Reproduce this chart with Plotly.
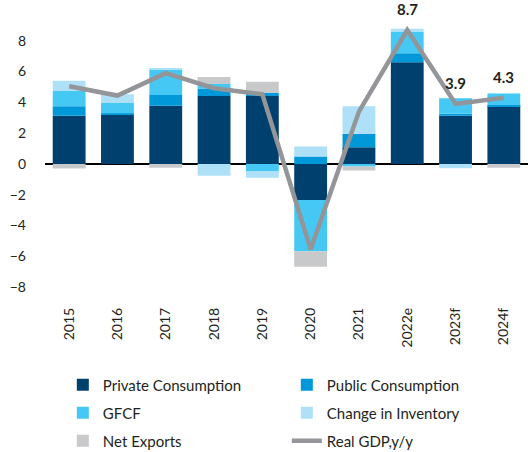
import plotly.graph_objects as go

years = ["2015", "2016", "2017", "2018", "2019", "2020", "2021", "2022e", "2023f", "2024f"]
private_cons = [3.13, 3.19, 3.78, 4.42, 4.42, -2.34, 1.09, 6.60, 3.13, 3.76]
public_cons = [0.61, 0.11, 0.70, 0.48, 0.20, 0.48, 0.87, 0.59, 0.13, 0.07]
gfcf = [1.00, 0.66, 1.64, 0.30, -0.50, -3.34, -0.17, 1.38, 1.00, 0.74]
inventory = [0.66, 0.56, 0.05, -0.77, -0.40, 0.66, 1.79, 0.22, -0.28, 0.0]
net_exports = [-0.30, 0.0, -0.25, 0.44, 0.72, -1.00, -0.25, 0.0, 0.0, -0.25]
real_gdp = [5.05, 4.44, 5.90, 4.92, 4.52, -5.55, 3.40, 8.7, 3.9, 4.3]
gdp_labels = ["", "", "", "", "", "", "", "8.7", "3.9", "4.3"]

FONT = "Lato"
fig = go.Figure()
series = [
    ("Private Consumption", private_cons, "#00406E", "legend"),
    ("Public Consumption", public_cons, "#0098D8", "legend"),
    ("GFCF", gfcf, "#45C8F3", "legend2"),
    ("Change in Inventory", inventory, "#AEE1F8", "legend2"),
    ("Net Exports", net_exports, "#C8C9CB", "legend3"),
]
for name, vals, col, lg in series:
    fig.add_trace(go.Bar(x=years, y=vals, name=name, marker_color=col,
                         marker_line_width=0, legend=lg))

fig.add_trace(go.Scatter(x=years, y=real_gdp, name="Real GDP,y/y", mode="lines",
                         line=dict(color="#939598", width=4.5), legend="legend3"))

for x, y, t in zip(years, real_gdp, gdp_labels):
    if t:
        fig.add_annotation(x=x, y=y, text=f"<b>{t}</b>", showarrow=False,
                           yanchor="middle", yshift=21,
                           font=dict(family=FONT, size=15, color="#231F20"))

def leg(yc):
    return dict(orientation="h", xref="container", x=0.119, xanchor="left",
                yref="container", y=yc, yanchor="middle",
                entrywidth=179, entrywidthmode="pixels",
                font=dict(family=FONT, size=15, color="#231F20"),
                itemwidth=30, bgcolor="rgba(0,0,0,0)")

fig.update_layout(
    width=528, height=452,
    margin=dict(l=45, r=0, t=10, b=148),
    barmode="relative", bargap=0.32,
    plot_bgcolor="white", paper_bgcolor="white",
    font=dict(family=FONT, size=14, color="#231F20"),
    showlegend=True,
    legend=leg(1 - 385 / 452),
    legend2=leg(1 - 413 / 452),
    legend3=leg(1 - 441 / 452),
    xaxis=dict(tickangle=-90, showgrid=False, showline=False, ticks="",
               tickfont=dict(family=FONT, size=14, color="#231F20")),
    yaxis=dict(range=[-9.1, 10], tickvals=[-8, -6, -4, -2, 0, 2, 4, 6, 8],
               showgrid=False, zeroline=True, zerolinecolor="#000000", zerolinewidth=1.5,
               showline=False, ticks="", ticklabelstandoff=18,
               tickfont=dict(family=FONT, size=14, color="#231F20")),
)

fig.write_html("out.html", config={"displayModeBar": False},
               post_script="document.body.style.margin='0';")
